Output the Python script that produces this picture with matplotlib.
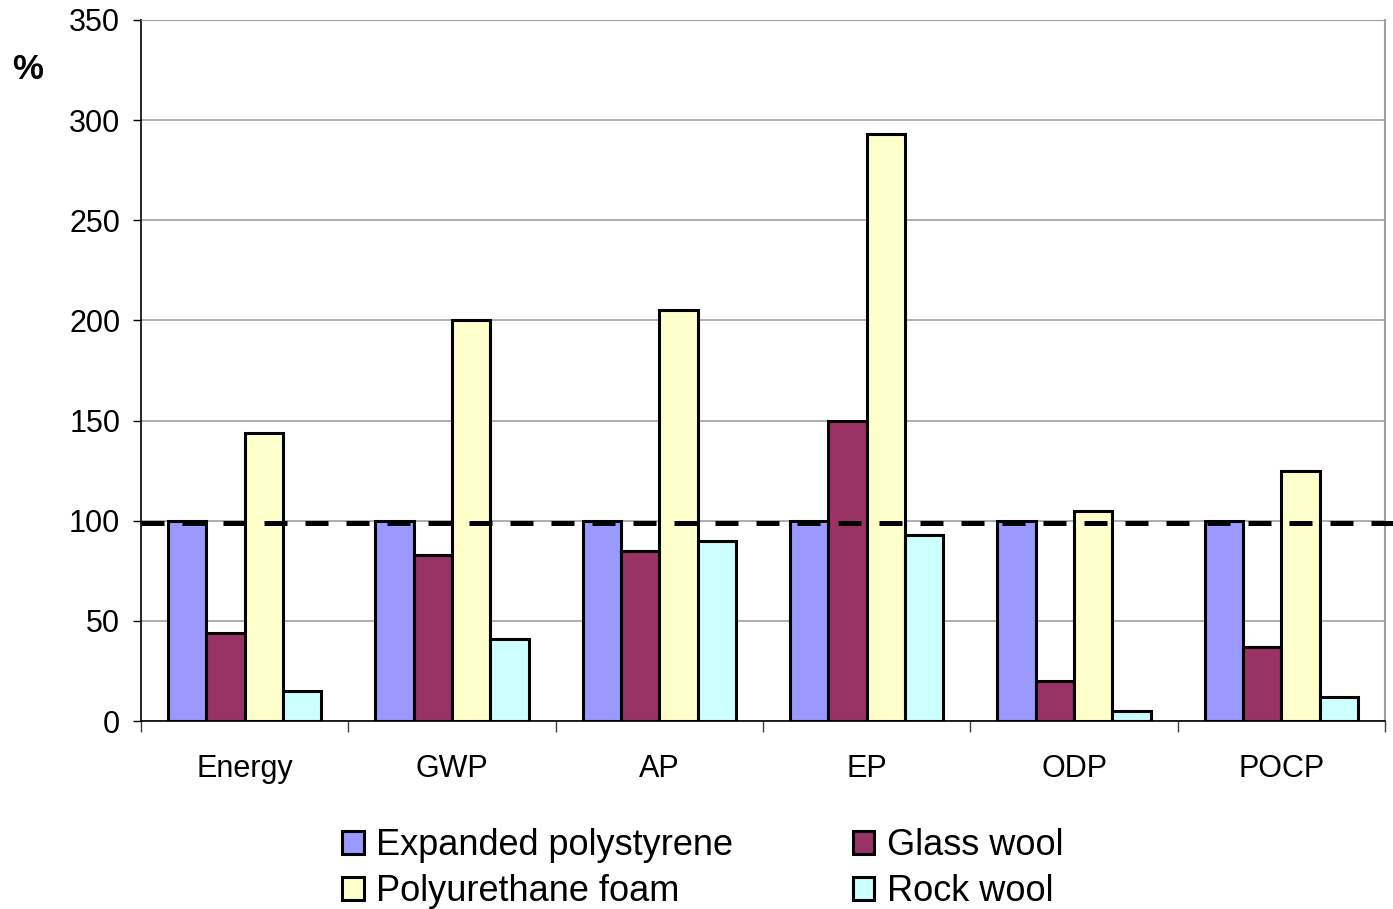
import matplotlib.pyplot as plt
import numpy as np

plt.rcParams['font.family'] = ['Liberation Sans', 'DejaVu Sans']

categories = ["Energy", "GWP", "AP", "EP", "ODP", "POCP"]
eps = [100, 100, 100, 100, 100, 100]
glass = [44, 83, 85, 150, 20, 37]
pu = [144, 200, 205, 293, 105, 125]
rock = [15, 41, 90, 93, 5, 12]
series = [("Expanded polystyrene", eps, "#9999FF"),
          ("Glass wool", glass, "#993366"),
          ("Polyurethane foam", pu, "#FFFFCC"),
          ("Rock wool", rock, "#CCFFFF")]

fig = plt.figure(figsize=(13.93, 9.09), dpi=100)
ax = fig.add_axes([0.1012, 0.2068, 0.8931, 0.7712])

x = np.arange(len(categories))
w = 0.185
bars = {}
for i, (name, vals, col) in enumerate(series):
    bars[name] = ax.bar(x + (i - 1.5) * w, vals, w, color=col,
                        edgecolor="black", linewidth=2.2, zorder=2)

# reference line at 100 %
ax.axhline(99, xmin=0, xmax=1.01, color="black", linestyle=(0, (4.6, 3.6)),
           linewidth=3.6, clip_on=False, zorder=3)

ax.set_xlim(-0.5, len(categories) - 0.5)
ax.set_ylim(0, 350)
ax.set_yticks(range(0, 351, 50))
ax.yaxis.grid(True, color="#A0A0A0", linewidth=1.2, zorder=0)
ax.set_axisbelow(True)

ax.set_xticks(x)
ax.set_xticklabels(categories)
ax.set_xticks(np.arange(-0.5, len(categories)), minor=True)
ax.tick_params(axis="x", which="major", length=0, pad=24, labelsize=22)
ax.tick_params(axis="x", which="minor", length=8, width=1, color="#404040")
ax.tick_params(axis="y", length=6, width=1, pad=9, labelsize=22)

ax.spines["left"].set_color("black")
ax.spines["bottom"].set_color("black")
ax.spines["left"].set_linewidth(1.2)
ax.spines["bottom"].set_linewidth(1.2)
ax.spines["right"].set_color("#A0A0A0")
ax.spines["top"].set_color("#A0A0A0")
ax.spines["right"].set_linewidth(1.5)

fig.text(0.02, 0.923, "%", fontsize=25, fontweight="bold", va="center", ha="center")

order = ["Expanded polystyrene", "Polyurethane foam", "Glass wool", "Rock wool"]
leg = fig.legend([bars[n] for n in order], order, loc="center",
                 bbox_to_anchor=(0.5045, 0.0445), ncol=2, frameon=False,
                 fontsize=26, handlelength=0.6, handleheight=0.6,
                 handletextpad=0.35, columnspacing=3.3, labelspacing=0.3)

fig.savefig("out.png", dpi=100)
